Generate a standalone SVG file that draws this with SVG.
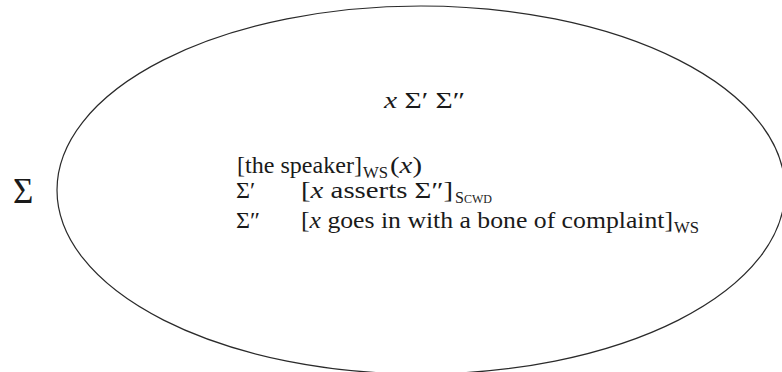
<svg xmlns="http://www.w3.org/2000/svg" width="782" height="372" viewBox="0 0 782 372">
<style>
text{font-family:"Liberation Serif","DejaVu Serif",serif;fill:#1a1a1a;font-size:24px}
.i{font-style:italic}
.sub{font-size:16px}
.sc{font-size:12px}
.shape{fill:none;stroke:#2a2a2a;stroke-width:1.2}
</style>
<rect width="782" height="372" fill="#fff"/>
<g id="outer-label"><text x="13" y="203" style="font-size:35px">Σ</text></g>
<g id="ellipse-node">
<ellipse class="shape" cx="421" cy="190" rx="364" ry="184"/>
<text x="384" y="108" textLength="81" lengthAdjust="spacingAndGlyphs"><tspan class="i">x</tspan> Σ′ Σ″</text>
<text x="237" y="173" textLength="125" lengthAdjust="spacingAndGlyphs">[the speaker]</text>
<text class="sub" x="363" y="178" textLength="25" lengthAdjust="spacingAndGlyphs">WS</text>
<text x="390" y="173" textLength="32" lengthAdjust="spacingAndGlyphs">(<tspan class="i">x</tspan>)</text>
<text x="236" y="198">Σ′</text>
<text x="301" y="198" textLength="152" lengthAdjust="spacingAndGlyphs">[<tspan class="i">x</tspan> asserts Σ″]</text>
<text x="455" y="203"><tspan class="sub">S</tspan><tspan class="sc">CWD</tspan></text>
<text x="236" y="228">Σ″</text>
<text x="301" y="228" textLength="372" lengthAdjust="spacingAndGlyphs">[<tspan class="i">x</tspan> goes in with a bone of complaint]</text>
<text class="sub" x="674" y="233" textLength="25" lengthAdjust="spacingAndGlyphs">WS</text>
</g>
<g id="connectors"/>
</svg>
